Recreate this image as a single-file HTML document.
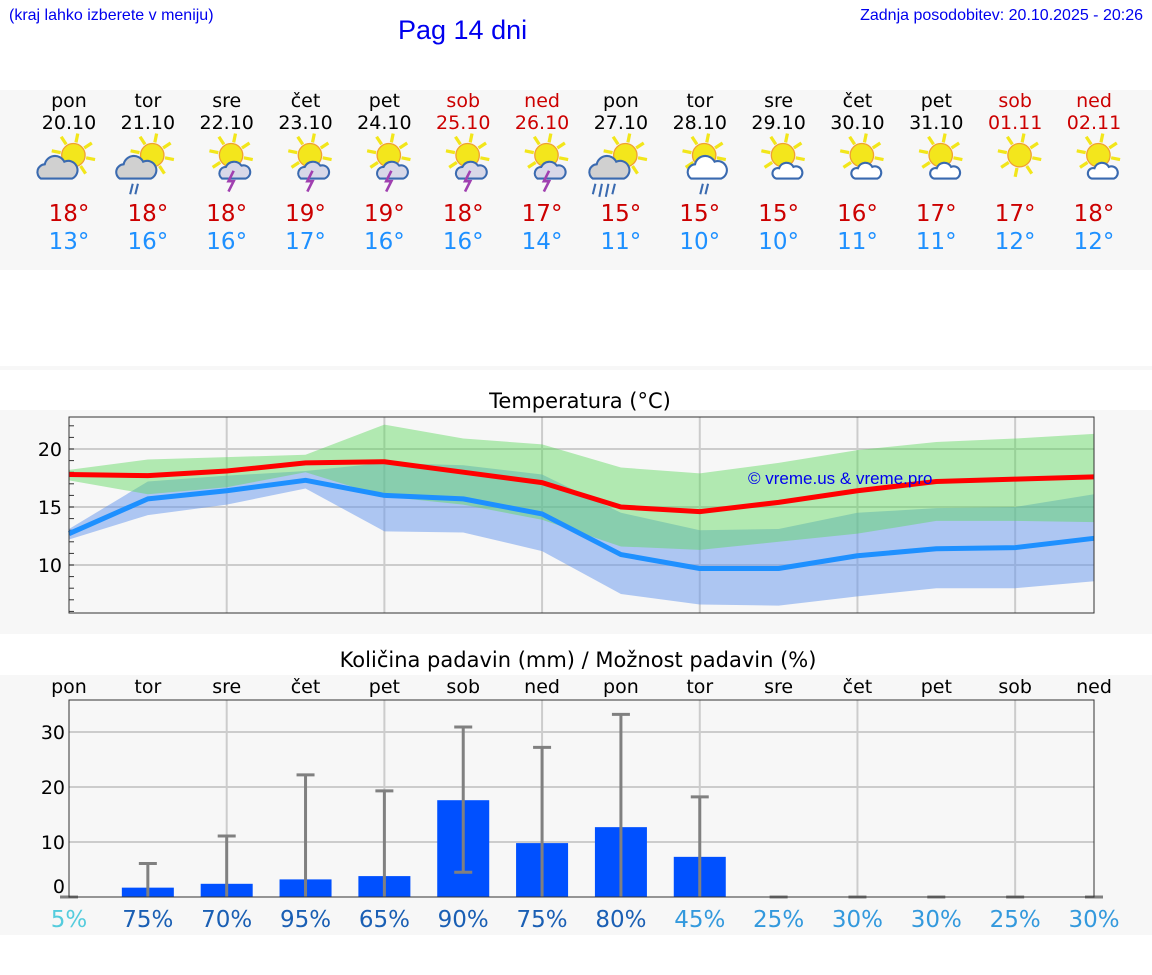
<!DOCTYPE html>
<html><head><meta charset="utf-8">
<style>
body{margin:0;width:1152px;height:975px;background:#fff;font-family:"DejaVu Sans","Liberation Sans",sans-serif;overflow:hidden;position:relative}
.abs{position:absolute}
</style></head>
<body>
<div class="abs" style="left:9px;top:7px;font-size:16px;color:#0000ee;font-family:'Liberation Sans',sans-serif">(kraj lahko izberete v meniju)</div>
<div class="abs" style="left:398px;top:15px;font-size:27px;color:#0000ee;font-family:'Liberation Sans',sans-serif">Pag 14 dni</div>
<div class="abs" style="right:9px;top:7px;font-size:16px;color:#0000ee;font-family:'Liberation Sans',sans-serif">Zadnja posodobitev: 20.10.2025 - 20:26</div>
<svg id="s" class="abs" style="left:0;top:0" width="1152" height="975"></svg>
<script>
const days=["pon","tor","sre","čet","pet","sob","ned","pon","tor","sre","čet","pet","sob","ned"];
const dates=["20.10","21.10","22.10","23.10","24.10","25.10","26.10","27.10","28.10","29.10","30.10","31.10","01.11","02.11"];
const weekend=[0,0,0,0,0,1,1,0,0,0,0,0,1,1];
const icons=[0,1,2,2,2,2,2,3,4,5,5,5,6,5];
const tmax=[18,18,18,19,19,18,17,15,15,15,16,17,17,18];
const tmin=[13,16,16,17,16,16,14,11,10,10,11,11,12,12];
const maxLine=[17.8,17.7,18.1,18.8,18.9,18.0,17.1,15.0,14.6,15.4,16.4,17.2,17.4,17.6];
const minLine=[12.7,15.7,16.4,17.3,16.0,15.7,14.4,10.9,9.7,9.7,10.8,11.4,11.5,12.3];
const maxHi=[18.2,19.1,19.3,19.5,22.1,20.9,20.4,18.4,17.9,18.8,19.9,20.6,20.9,21.3];
const maxLo=[17.3,16.1,16.7,18.0,15.9,15.2,13.9,11.6,11.3,12.0,12.7,13.8,13.8,13.7];
const minHi=[13.1,17.2,17.7,18.1,18.8,18.6,17.8,14.5,13.0,13.1,14.5,14.9,15.0,16.1];
const minLo=[12.2,14.3,15.2,16.6,12.9,12.8,11.2,7.5,6.6,6.5,7.3,8.0,8.0,8.6];
const tempTicks=[10,15,20];
const precip=[0,1.7,2.4,3.2,3.8,17.6,9.8,12.7,7.3,0,0,0,0,0];
const precipHi=[0,6.1,11.1,22.2,19.3,30.9,27.2,33.2,18.2,0,0,0,0,0];
const precipLo=[0,0,0,0,0,4.5,0,0,0,0,0,0,0,0];
const chance=[5,75,70,95,65,90,75,80,45,25,30,30,25,30];
const precipTicks=[0,10,20,30];

const S=document.getElementById('s');
const NS="http://www.w3.org/2000/svg";
function mk(t,a,p){const e=document.createElementNS(NS,t);for(const k in a)e.setAttribute(k,a[k]);(p||S).appendChild(e);return e;}
const X=i=>69+i*(1025/13);
const YT=v=>449-(v-20)*11.6;
const YP=v=>897-v*5.5;

let e;
e=mk('rect',{x:0,y:90,width:1152,height:180,fill:'#f7f7f7'});
e=mk('rect',{x:0,y:366,width:1152,height:4,fill:'#f7f7f7'});
e=mk('rect',{x:0,y:410,width:1152,height:224,fill:'#f7f7f7'});
e=mk('rect',{x:0,y:675,width:1152,height:260,fill:'#f7f7f7'});

function icon(type,cx,cy,g0){
  const g=mk('g',{transform:`translate(${cx},${cy}) scale(1.3) translate(${-cx},${-cy})`},g0);
  const sx=cx+8,sy=cy-6;
  for(let k=0;k<8;k++){const a=k*Math.PI/4+0.2;mk('line',{x1:sx+Math.cos(a)*10,y1:sy+Math.sin(a)*10,x2:sx+Math.cos(a)*17,y2:sy+Math.sin(a)*17,stroke:'#f2e61a','stroke-width':2.5},g);}
  mk('circle',{cx:sx,cy:sy,r:9,fill:'#f3e61c',stroke:'#f0a030','stroke-width':1},g);
  if(type===0||type===1||type===3){
    mk('path',{d:`M${cx-17},${cy+12} a6,6 0 0 1 3,-11 a8,8 0 0 1 15,-2 a6,6 0 0 1 6,13 z`,fill:'#d0d0d0',stroke:'#3a6ab0','stroke-width':1.6},g);
    if(type===1){mk('path',{d:`M${cx-7},${cy+16} l-2,8 M${cx-3},${cy+16} l-2,8`,stroke:'#3a6ab0','stroke-width':1.6},g);}
    if(type===3){mk('path',{d:`M${cx-15},${cy+16} l-2,8 M${cx-10},${cy+16} l-2,10 M${cx-5},${cy+16} l-2,10 M${cx},${cy+16} l-2,8`,stroke:'#3a6ab0','stroke-width':1.6},g);}
  } else if(type===2){
    mk('path',{d:`M${cx+1},${cy+12} a5,5 0 0 1 3,-9 a7,7 0 0 1 12,-1 a5,5 0 0 1 3,10 z`,fill:'#d8d8e8',stroke:'#3a6ab0','stroke-width':1.6},g);
    mk('path',{d:`M${cx+10},${cy+6} l-4,8 h4 l-4,8`,stroke:'#a040b0','stroke-width':2,fill:'none'},g);
  } else if(type===4){
    mk('path',{d:`M${cx-2},${cy+12} a6,6 0 0 1 3,-11 a8,8 0 0 1 15,-2 a6,6 0 0 1 5,13 z`,fill:'#fff',stroke:'#3a6ab0','stroke-width':1.6},g);
    mk('path',{d:`M${cx+7},${cy+16} l-2,8 M${cx+11},${cy+16} l-2,8`,stroke:'#3a6ab0','stroke-width':1.6},g);
  } else if(type===5){
    mk('path',{d:`M${cx+3},${cy+12} a4,4 0 0 1 2,-8 a6,6 0 0 1 11,-1 a4,4 0 0 1 4,9 z`,fill:'#fff',stroke:'#3a6ab0','stroke-width':1.6},g);
  }
}

for(let i=0;i<14;i++){
  const x=X(i), col=weekend[i]?'#cc0000':'#000';
  e=mk('g',{});
  const t1=mk('text',{x:x,y:107,'text-anchor':'middle','font-size':19,fill:col},e);t1.textContent=days[i];
  const t2=mk('text',{x:x,y:129,'text-anchor':'middle','font-size':19,fill:col},e);t2.textContent=dates[i];
  icon(icons[i],x-6,163,e);
  const t3=mk('text',{x:x,y:221,'text-anchor':'middle','font-size':23,fill:'#cc0000'},e);t3.textContent=tmax[i]+'°';
  const t4=mk('text',{x:x,y:249,'text-anchor':'middle','font-size':23,fill:'#1e90ff'},e);t4.textContent=tmin[i]+'°';
}

e=mk('text',{x:580,y:408,'text-anchor':'middle','font-size':21,fill:'#000'});e.textContent='Temperatura (°C)';
mk('rect',{x:69,y:417,width:1025,height:196,fill:'#f7f7f7'});
const tg=mk('g',{});
tempTicks.forEach(v=>{mk('line',{x1:69,x2:1094,y1:YT(v),y2:YT(v),stroke:'#ccc','stroke-width':2},tg);
  const t=mk('text',{x:62,y:YT(v)+7,'text-anchor':'end','font-size':19,fill:'#000'});t.textContent=v;});
for(let v=6;v<=22;v++){mk('line',{x1:69,x2:74,y1:YT(v),y2:YT(v),stroke:'#333'},tg);}
for(let i=2;i<14;i+=2)mk('line',{x1:X(i),x2:X(i),y1:417,y2:613,stroke:'#ccc','stroke-width':2},tg);
function band(hi,lo,fill,name){let d='M';hi.forEach((v,i)=>d+=X(i)+','+YT(v)+' L');for(let i=lo.length-1;i>=0;i--)d+=X(i)+','+YT(lo[i])+(i?' L':' Z');
  const p=mk('path',{d:d,fill:fill});}
band(minHi,minLo,'rgba(100,149,237,0.5)','min-range-band');
band(maxHi,maxLo,'rgba(90,215,90,0.45)','max-range-band');
function line(a,c,name){const p=mk('polyline',{points:a.map((v,i)=>X(i)+','+YT(v)).join(' '),fill:'none',stroke:c,'stroke-width':5,'stroke-linejoin':'round'});}
line(minLine,'#1e90ff','min-temp-line');
line(maxLine,'#ff0000','max-temp-line');
e=mk('text',{x:748,y:484,'font-size':17,fill:'#0000ee','font-family':'Liberation Sans,sans-serif'});e.textContent='© vreme.us & vreme.pro';
mk('rect',{x:69,y:417,width:1025,height:196,fill:'none',stroke:'#333','stroke-width':1});

e=mk('text',{x:578,y:667,'text-anchor':'middle','font-size':21,fill:'#000'});e.textContent='Količina padavin (mm) / Možnost padavin (%)';
const pg=mk('g',{});
precipTicks.forEach(v=>{if(v>0)mk('line',{x1:69,x2:1094,y1:YP(v),y2:YP(v),stroke:'#ccc','stroke-width':2},pg);
  const t=mk('text',{x:65,y:YP(v)+(v?7:-4),'text-anchor':'end','font-size':19,fill:'#000'});t.textContent=v;});
for(let i=2;i<14;i+=2)mk('line',{x1:X(i),x2:X(i),y1:700,y2:897,stroke:'#ccc','stroke-width':2},pg);
for(let i=0;i<14;i++){
  const x=X(i);
  const t=mk('text',{x:x,y:693,'text-anchor':'middle','font-size':19,fill:'#000'});t.textContent=days[i];
  if(precip[i]>0){const b=mk('rect',{x:x-26,y:YP(precip[i]),width:52,height:YP(0)-YP(precip[i]),fill:'#0050ff'});}
  const eb=mk('g',{stroke:'#808080','stroke-width':3});
  mk('line',{x1:x,x2:x,y1:YP(precipHi[i]),y2:YP(precipLo[i])},eb);
  mk('line',{x1:x-9,x2:x+9,y1:YP(precipHi[i]),y2:YP(precipHi[i])},eb);
  if(precipLo[i]>0)mk('line',{x1:x-9,x2:x+9,y1:YP(precipLo[i]),y2:YP(precipLo[i])},eb);
  const c=chance[i]<20?'#55ccdd':(chance[i]>=60?'#1a5fb4':'#3399dd');
  const p=mk('text',{x:x,y:927,'text-anchor':'middle','font-size':23,fill:c});p.textContent=chance[i]+'%';
}
mk('rect',{x:69,y:700,width:1025,height:197,fill:'none',stroke:'#333','stroke-width':1});
</script>
</body></html>
